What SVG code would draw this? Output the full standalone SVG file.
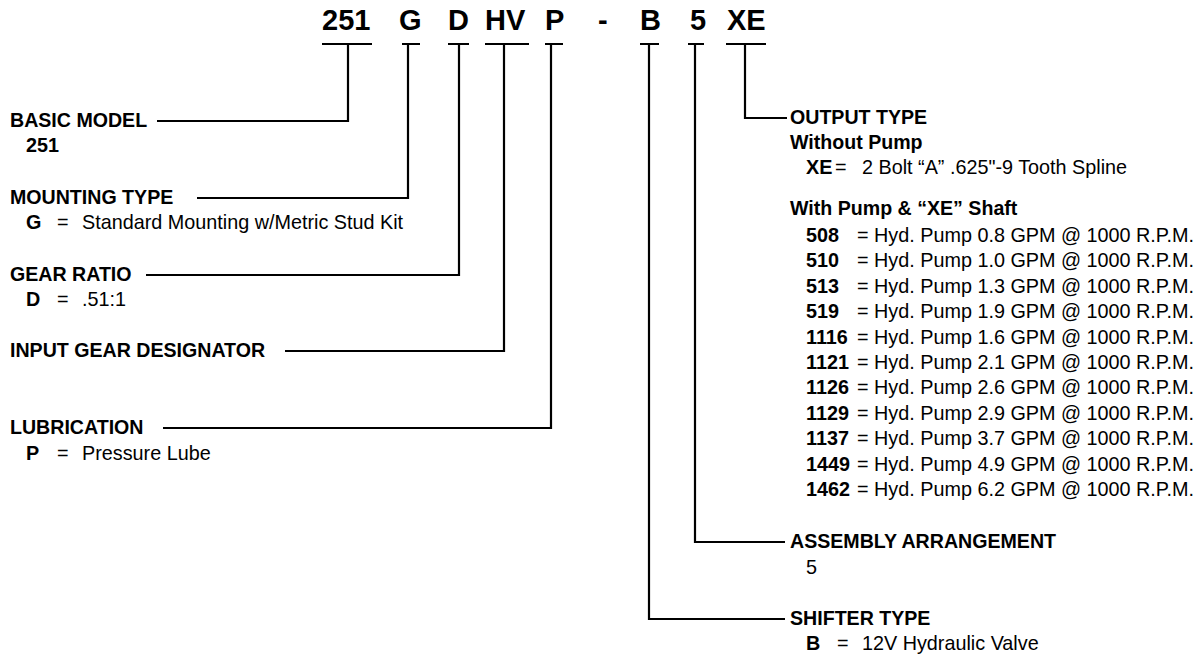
<svg xmlns="http://www.w3.org/2000/svg" width="1203" height="657" viewBox="0 0 1203 657">
<style>
text{font-family:"Liberation Sans",Arial,Helvetica,sans-serif;fill:#000}
.code{font-size:29px;font-weight:bold}
.h{font-size:19.6px;font-weight:bold}
.b{font-weight:bold}
.t{font-size:19.8px}
.ln{fill:none;stroke:#000;stroke-width:2.2}
</style>
<rect width="1203" height="657" fill="#fff"/>
<g id="code">
<text class="code" x="322" y="30">251</text>
<text class="code" x="399" y="30">G</text>
<text class="code" x="448" y="30">D</text>
<text class="code" x="485" y="30">HV</text>
<text class="code" x="545" y="30">P</text>
<text class="code" x="598" y="30">-</text>
<text class="code" x="640" y="30">B</text>
<text class="code" x="690" y="30">5</text>
<text class="code" x="727" y="30">XE</text>
</g>
<g id="connectors" class="ln">
<path d="M322 44H372M348 44V121H157"/>
<path d="M402 44H420M408 44V198H197"/>
<path d="M448 44H469M459 44V275H146"/>
<path d="M485 44H529M504 44V351H285"/>
<path d="M545 44H563M551 44V428H163"/>
<path d="M640 44H659M649 44V619H785"/>
<path d="M688 44H704M695 44V542H785"/>
<path d="M726 44H766M745 44V118H787"/>
</g>
<g id="basic-model">
<text class="h" x="10" y="127">BASIC MODEL</text>
<text class="t b" x="26" y="152">251</text>
</g>
<g id="mounting-type">
<text class="h" x="10" y="204">MOUNTING TYPE</text>
<text class="t b" x="26" y="229">G</text><text class="t" x="57" y="229">=</text><text class="t" x="82" y="229">Standard Mounting w/Metric Stud Kit</text>
</g>
<g id="gear-ratio">
<text class="h" x="10" y="281">GEAR RATIO</text>
<text class="t b" x="26" y="306">D</text><text class="t" x="57" y="306">=</text><text class="t" x="82" y="306">.51:1</text>
</g>
<g id="input-gear">
<text class="h" x="10" y="357">INPUT GEAR DESIGNATOR</text>
</g>
<g id="lubrication">
<text class="h" x="10" y="434">LUBRICATION</text>
<text class="t b" x="26" y="460">P</text><text class="t" x="57" y="460">=</text><text class="t" x="82" y="460">Pressure Lube</text>
</g>
<g id="output-type">
<text class="h" x="790" y="124">OUTPUT TYPE</text>
<text class="h" x="790" y="149">Without Pump</text>
<text class="t b" x="806" y="174">XE</text><text class="t" x="835" y="174">=</text><text class="t" x="862" y="174">2 Bolt “A” .625"-9 Tooth Spline</text>
<text class="h" x="790" y="215">With Pump &amp; “XE” Shaft</text>
<text class="t b" x="806" y="242">508</text><text class="t" x="857" y="242">= Hyd. Pump 0.8 GPM @ 1000 R.P.M.</text>
<text class="t b" x="806" y="267.4">510</text><text class="t" x="857" y="267.4">= Hyd. Pump 1.0 GPM @ 1000 R.P.M.</text>
<text class="t b" x="806" y="292.8">513</text><text class="t" x="857" y="292.8">= Hyd. Pump 1.3 GPM @ 1000 R.P.M.</text>
<text class="t b" x="806" y="318.2">519</text><text class="t" x="857" y="318.2">= Hyd. Pump 1.9 GPM @ 1000 R.P.M.</text>
<text class="t b" x="806" y="343.6">1116</text><text class="t" x="857" y="343.6">= Hyd. Pump 1.6 GPM @ 1000 R.P.M.</text>
<text class="t b" x="806" y="369">1121</text><text class="t" x="857" y="369">= Hyd. Pump 2.1 GPM @ 1000 R.P.M.</text>
<text class="t b" x="806" y="394.4">1126</text><text class="t" x="857" y="394.4">= Hyd. Pump 2.6 GPM @ 1000 R.P.M.</text>
<text class="t b" x="806" y="419.8">1129</text><text class="t" x="857" y="419.8">= Hyd. Pump 2.9 GPM @ 1000 R.P.M.</text>
<text class="t b" x="806" y="445.2">1137</text><text class="t" x="857" y="445.2">= Hyd. Pump 3.7 GPM @ 1000 R.P.M.</text>
<text class="t b" x="806" y="470.6">1449</text><text class="t" x="857" y="470.6">= Hyd. Pump 4.9 GPM @ 1000 R.P.M.</text>
<text class="t b" x="806" y="496">1462</text><text class="t" x="857" y="496">= Hyd. Pump 6.2 GPM @ 1000 R.P.M.</text>
</g>
<g id="assembly-arrangement">
<text class="h" x="790" y="548">ASSEMBLY ARRANGEMENT</text>
<text class="t" x="806" y="574">5</text>
</g>
<g id="shifter-type">
<text class="h" x="790" y="625">SHIFTER TYPE</text>
<text class="t b" x="806" y="650">B</text><text class="t" x="837" y="650">=</text><text class="t" x="862" y="650">12V Hydraulic Valve</text>
</g>
</svg>
